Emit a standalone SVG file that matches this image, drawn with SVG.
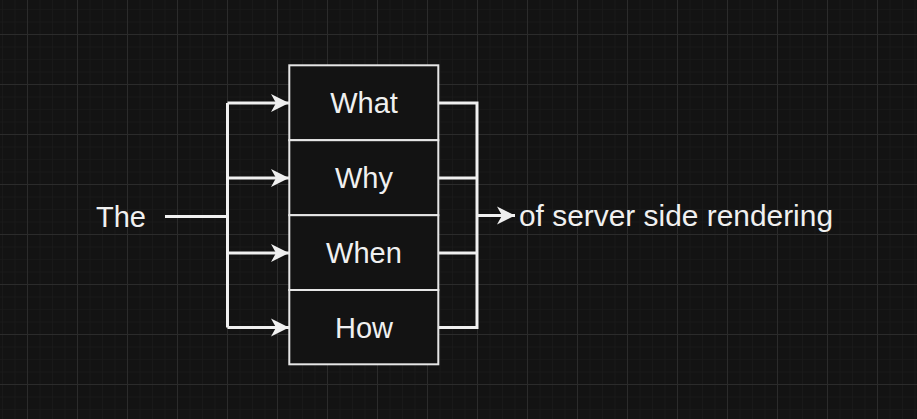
<svg xmlns="http://www.w3.org/2000/svg" width="917" height="419" viewBox="0 0 917 419">
  <defs>
    <pattern id="minor" x="2" y="9" width="12.5" height="12.5" patternUnits="userSpaceOnUse">
      <path d="M0 0H12.5M0 0V12.5" fill="none" stroke="#1d1d1d" stroke-width="1"/>
    </pattern>
    <pattern id="major" x="27" y="34" width="50" height="50" patternUnits="userSpaceOnUse">
      <path d="M0 0.5H50M0.5 0V50" fill="none" stroke="#2b2b2b" stroke-width="1"/>
    </pattern>
    <marker id="arr" markerUnits="userSpaceOnUse" markerWidth="20" markerHeight="22" refX="19" refY="11" orient="auto" viewBox="0 0 20 22">
      <path d="M19 11 L1 2 L6 11 L1 20 Z" fill="#f0f0f0"/>
    </marker>
    <style>
      .box { fill: #131313; stroke: #e6e6e6; stroke-width: 2; }
      .con { fill: none; stroke: #f0f0f0; stroke-width: 3; }
      .t { font-family: "Liberation Sans", Arial, sans-serif; font-size: 29px; fill: #f0f0f0; }
      .c { text-anchor: middle; }
    </style>
  </defs>
  <rect width="917" height="419" fill="#131313"/>
  <rect width="917" height="419" fill="url(#minor)"/>
  <rect width="917" height="419" fill="url(#major)"/>

  <g id="connectors">
    <path class="con" d="M165 216.5H227.5"/>
    <path class="con" d="M227.5 103V327.5"/>
    <path class="con" d="M227.5 103H289" marker-end="url(#arr)"/>
    <path class="con" d="M227.5 178H289" marker-end="url(#arr)"/>
    <path class="con" d="M227.5 253H289" marker-end="url(#arr)"/>
    <path class="con" d="M227.5 327.5H289" marker-end="url(#arr)"/>
    <path class="con" d="M439 103H477V327.5H439"/>
    <path class="con" d="M439 178H477"/>
    <path class="con" d="M439 253H477"/>
    <path class="con" d="M477 215.5H515" marker-end="url(#arr)"/>
  </g>

  <g id="node-the"><text class="t" x="96" y="227">The</text></g>
  <g id="node-what"><rect class="box" x="289.3" y="65.3" width="149" height="74.9"/><text class="t c" x="364" y="113">What</text></g>
  <g id="node-why"><rect class="box" x="289.3" y="140.2" width="149" height="75"/><text class="t c" x="364" y="188">Why</text></g>
  <g id="node-when"><rect class="box" x="289.3" y="215.2" width="149" height="74.8"/><text class="t c" x="364" y="263">When</text></g>
  <g id="node-how"><rect class="box" x="289.3" y="290" width="149" height="74.3"/><text class="t c" x="364" y="338">How</text></g>
  <g id="node-result"><text class="t" x="519" y="226" textLength="314" lengthAdjust="spacingAndGlyphs">of server side rendering</text></g>
</svg>
